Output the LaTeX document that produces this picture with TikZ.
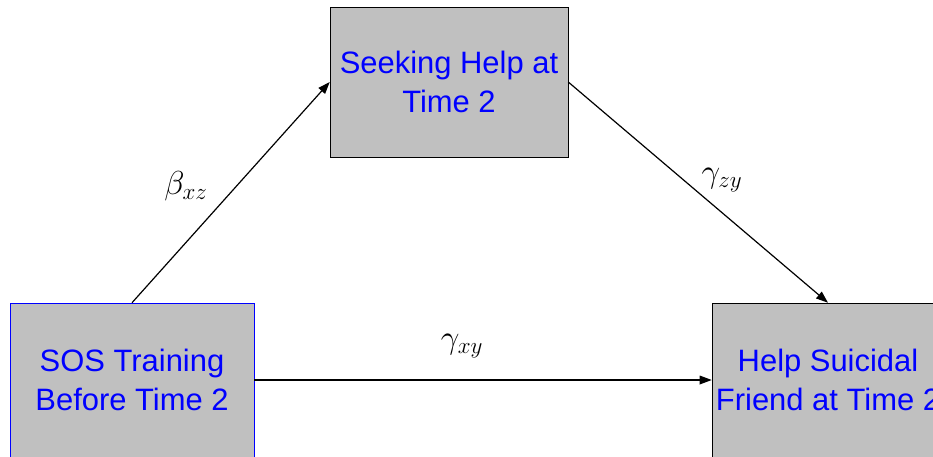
\documentclass[tikz,border=0pt]{standalone}
\usepackage{fontspec}
\setmainfont{Liberation Sans}
\usetikzlibrary{arrows.meta}
\definecolor{boxgray}{HTML}{C0C0C0}
\begin{document}
\begin{tikzpicture}[x=0.75pt, y=-0.75pt,
varnode/.style={rectangle, draw=black, fill=boxgray, text=blue, align=center, font=\fontsize{23.2}{29}\selectfont, inner sep=0pt},
pathlabel/.style={font=\fontsize{33}{34}\selectfont},
path/.style={-{Triangle[length=9pt, width=6.5pt]}, line width=0.9pt},
]
\useasboundingbox (0,0) rectangle (933,457);
%Nodes
\node[varnode, draw=blue, minimum width=183pt, minimum height=115.5pt](training) at(132,380) {SOS Training\\Before Time 2};
\node[varnode, minimum width=178.5pt, minimum height=112.5pt](seeking) at(449,82) {Seeking Help at\\Time 2};
\node[varnode, minimum width=174pt, minimum height=115.5pt](helping) at(828,380) {Help Suicidal\\Friend at Time 2};
%Labels
\node[pathlabel](bxz) at(186,186) {$\beta_{\scriptscriptstyle xz}$};
\node[pathlabel](gzy) at(722,180) {$\gamma_{\scriptscriptstyle zy}$};
\node[pathlabel](gxy) at(462,346) {$\gamma_{\scriptscriptstyle xy}$};
%Lines
\draw[path] (training.north) -- (seeking.west);
\draw[path] (seeking.east) -- (helping.north);
\draw[path] (training.east) -- (helping.west);
\end{tikzpicture}
\end{document}
